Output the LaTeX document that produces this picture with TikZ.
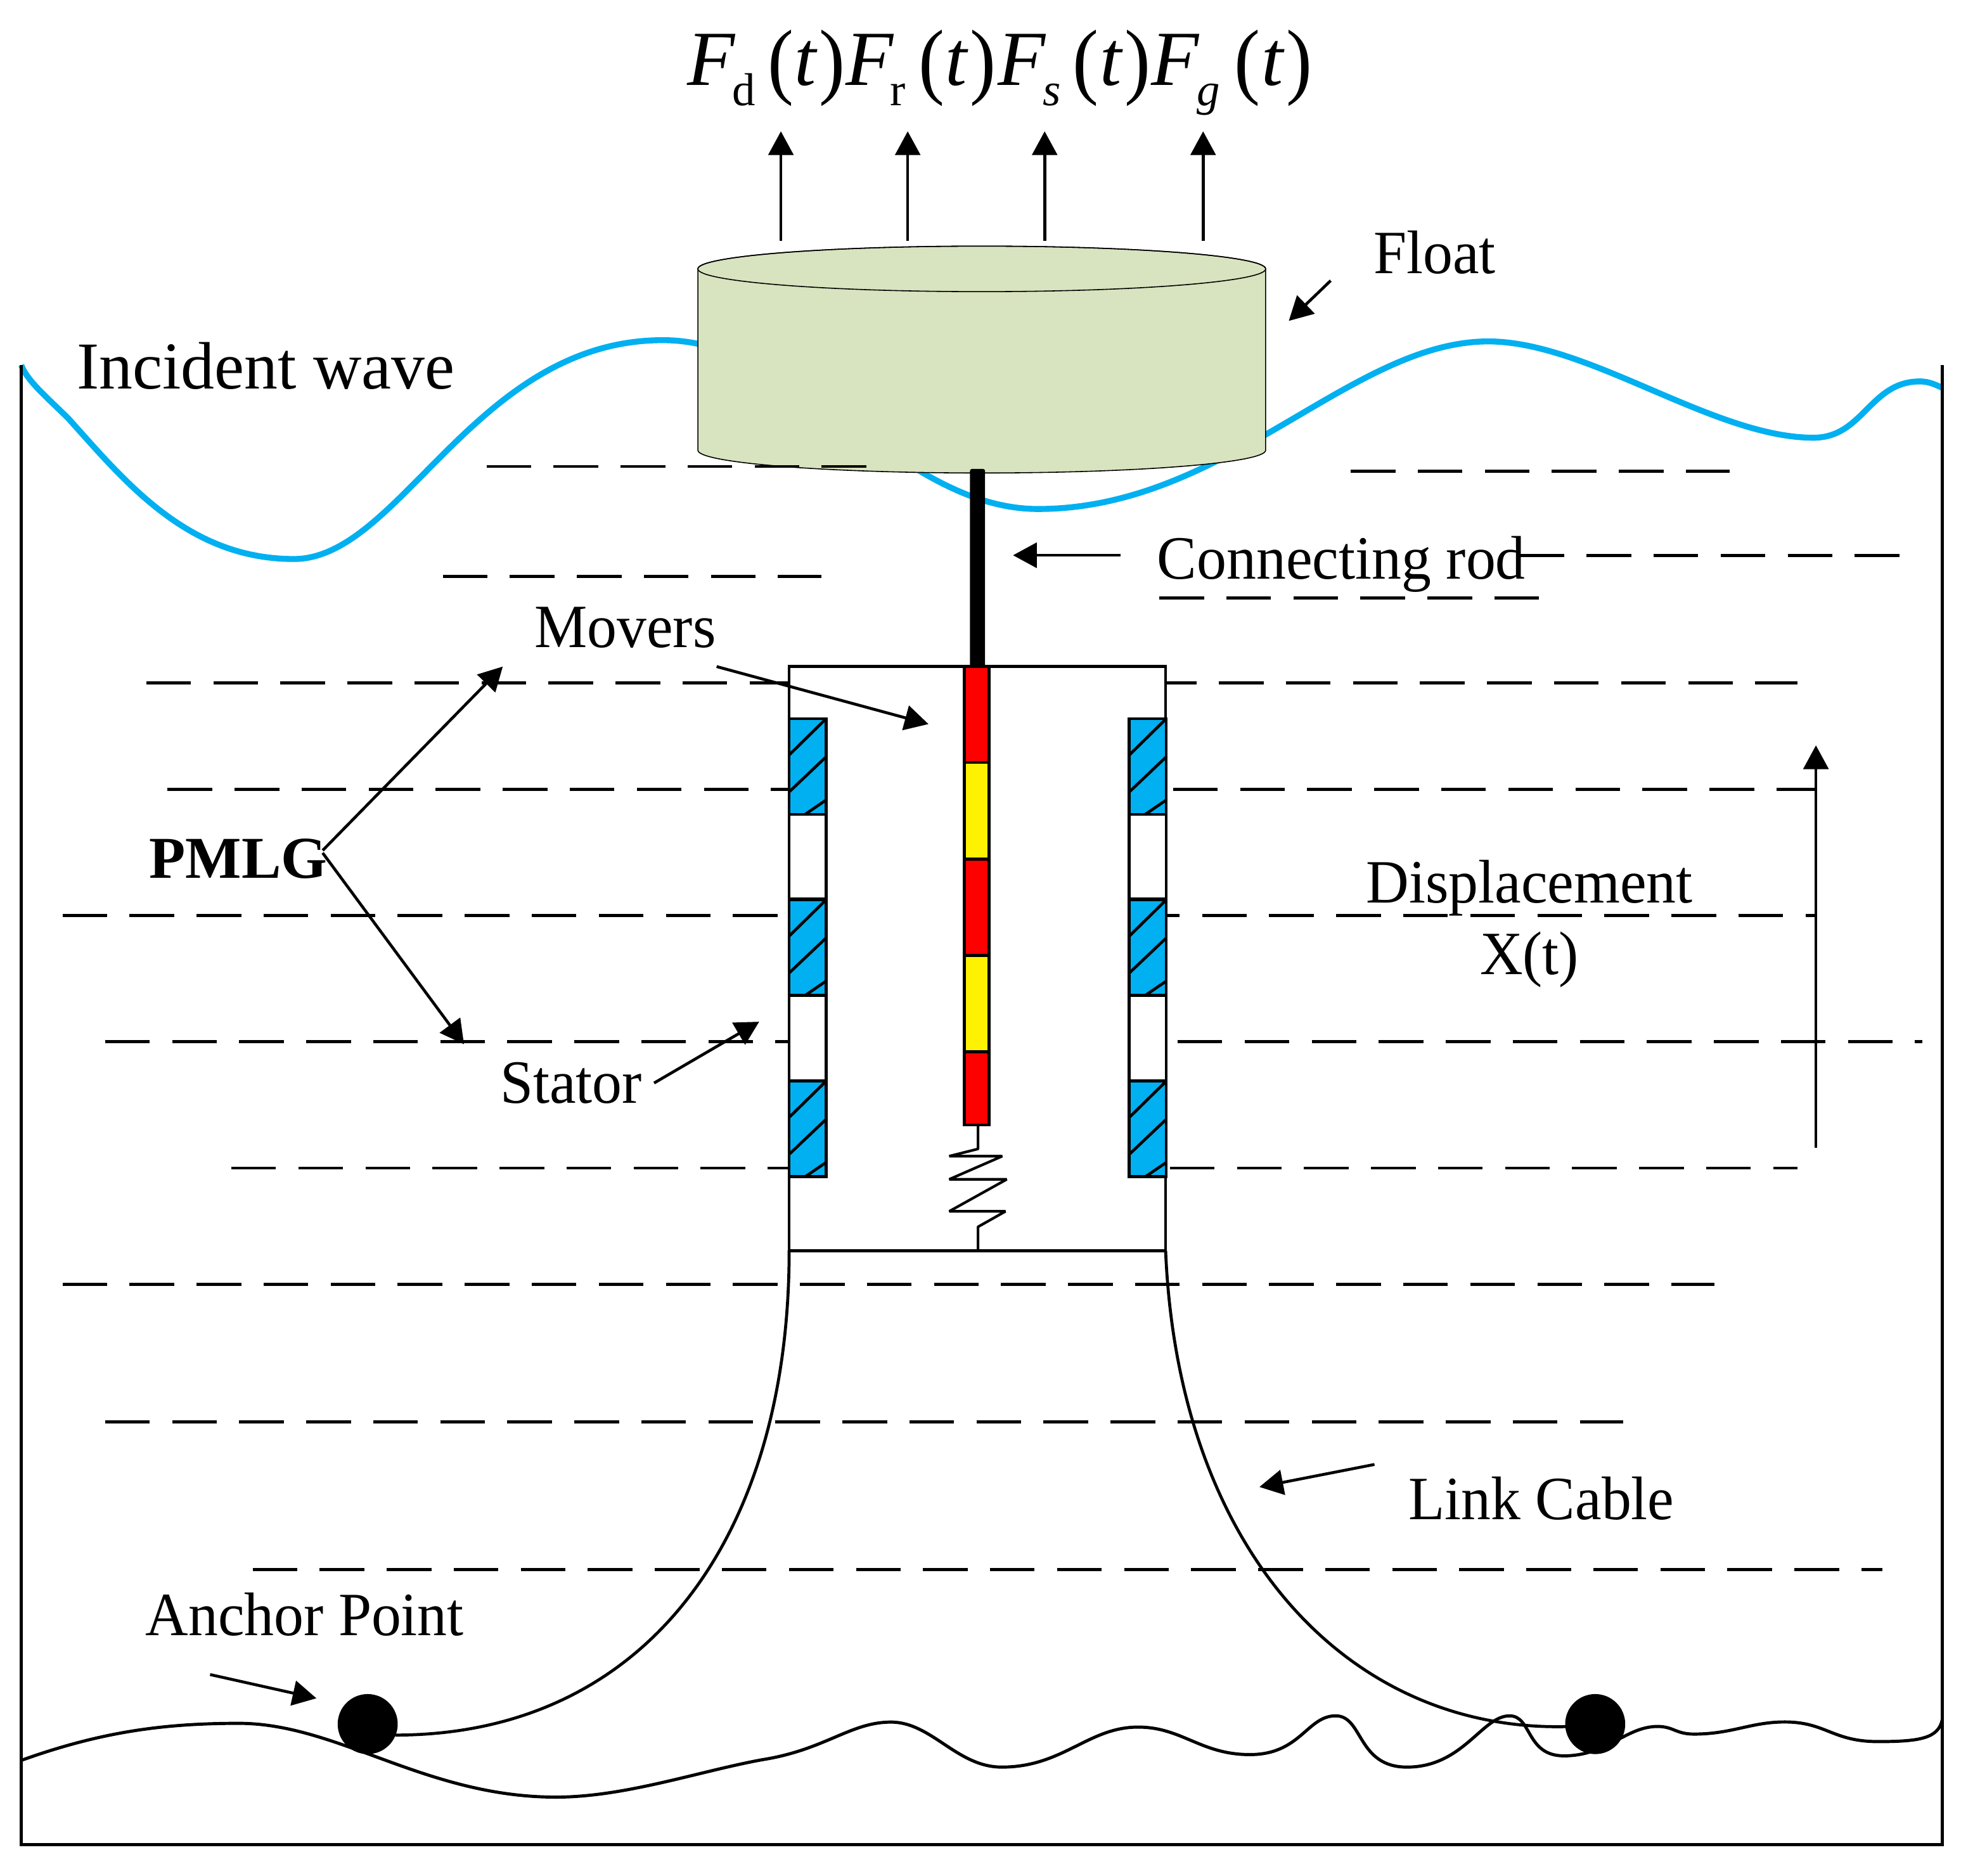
\documentclass[tikz,border=0pt]{standalone}
\usepackage{fontspec}
\usepackage{graphicx}
\setmainfont{Liberation Serif}
\usetikzlibrary{arrows.meta}
\definecolor{floatgreen}{HTML}{D8E3BF}
\definecolor{waveblue}{HTML}{00B0F0}
\newcommand{\Paren}[1]{\raisebox{-1.4pt}{\scalebox{1}[1.08]{#1}}}
\newcommand{\Fterm}[3][20.3pt]{\rlap{\itshape F}\kern#1\rlap{\raisebox{-9.2pt}{\fontsize{21}{22}\selectfont #2}}\kern-#1\kern#3\relax\rlap{\Paren{(}}\kern12.2pt\rlap{\itshape t}\kern11.4pt\rlap{\Paren{)}}}
\newcommand{\Lab}[1]{\scalebox{.965}[1]{#1}}
\tikzset{
  lbl/.style={anchor=base west,inner sep=0pt,font=\fontsize{28}{30}\selectfont},
  forceterm/.style={anchor=base west,inner sep=0pt,font=\fontsize{35.5}{38}\selectfont},
  waterline/.style={line width=.5mm,dash pattern=on 7.14mm off 3.58mm},
  boxline/.style={line width=.48mm},
  pointer/.style={line width=.46mm,-{Triangle[length=3.8mm,width=4mm]}},
  seabed/.style={line width=.5mm,line join=round},
  statorseg/.style={draw=black,fill=waveblue,line width=.48mm},
  statorgap/.style={draw=black,fill=white,line width=.48mm},
  hatchline/.style={line width=.46mm},
  anchorball/.style={circle,fill=black,inner sep=0pt,minimum size=9.6mm}
}
\begin{document}
\begin{tikzpicture}[x=.2mm,y=-.2mm]
\useasboundingbox (0,0) rectangle (1568,1499.7);
\fill[white] (0,0) rectangle (1568,1499.7);
% wave
\draw[waveblue,line width=.95mm]
  (17,292) .. controls (22,305) and (38,318) .. (55,335)
  .. controls (100,385) and (150,447) .. (235,447)
  .. controls (320,447) and (380,272) .. (530,272)
  .. controls (640,272) and (720,407) .. (830,407)
  .. controls (980,407) and (1080,273) .. (1190,273)
  .. controls (1270,273) and (1370,350) .. (1450,350)
  .. controls (1490,350) and (1495,305) .. (1535,305)
  .. controls (1543,305) and (1548,308) .. (1553,310);
% float
\path[fill=floatgreen,draw=black,line width=.16mm] (558,215) -- (558,360) arc[start angle=180,end angle=360,x radius=45.4mm,y radius=3.64mm] -- (1012,215) arc[start angle=0,end angle=180,x radius=45.4mm,y radius=3.64mm] -- cycle;
\draw[line width=.16mm] (785,215) ellipse[x radius=45.4mm,y radius=3.64mm];
% water lines
\foreach \ya/\xa/\xb in {373/389/693,377/1080/1383,444/1215/1520,461/354/657,478/927/1231,546/117/1437,631/134/1452,732/50/1452,833/84/1537,934/185/1437,1027/50/1371,1137/84/1298,1255/202/1505}
  \draw[waterline] (\xa,\ya) -- (\xb,\ya);
% generator case
\draw[boxline,fill=white] (631,533) rectangle (932,1000);
\coordinate (caseSW) at (631,1000);
\coordinate (caseSE) at (932,1000);
\foreach \sx in {631,903}{
  \draw[statorgap] (\sx,651) rectangle ++(29.5,68);
  \draw[statorgap] (\sx,796) rectangle ++(29.5,68);
  \foreach \sy in {574.7,719.5,864.5}{
    \draw[statorseg] (\sx,\sy) rectangle ++(29.5,76.5);
    \draw[hatchline] (\sx+29.5,\sy) -- (\sx,\sy+29);
    \draw[hatchline] (\sx+29.5,\sy+30.5) -- (\sx,\sy+58.5);
    \draw[hatchline] (\sx+29.5,\sy+65) -- (\sx+12.7,\sy+76.5);
  }
}
% movers
\foreach \ma/\mb/\mc in {533/609.7/red,609.7/686.8/yellow,686.8/763.8/red,763.8/841/yellow,841/899.6/red}
  \draw[boxline,fill=\mc] (771,\ma) rectangle (791,\mb);
\fill[rounded corners=.3mm] (775.6,375) rectangle (787.6,534);
% spring
\draw[line width=.42mm,line join=bevel] (782,900) -- (782,918.7) -- (759,924.5) -- (801.4,924.5) -- (759,943) -- (805,943) -- (759,968.6) -- (804,968.6) -- (782,981) -- (782,1000);
% cables
\coordinate (cableLend) at (316,1387.4);
\coordinate (cableRend) at (1253,1380.6);
\draw[line width=.48mm] (caseSW) .. controls (631,1230) and (516,1387.4) .. (cableLend);
\draw[line width=.48mm] (caseSE) .. controls (942,1240) and (1078,1385) .. (cableRend);
% seabed
\draw[seabed] (17,1407.6) .. controls (80,1385) and (130,1378) .. (191,1378)
  .. controls (270,1378) and (340,1437) .. (444.6,1437)
  .. controls (500,1437) and (560,1416) .. (610,1407)
  .. controls (660,1399) and (680,1377) .. (712.4,1377)
  .. controls (745,1377) and (765,1413) .. (801,1413)
  .. controls (850,1413) and (870,1381) .. (910,1381)
  .. controls (945,1381) and (960,1403) .. (999.4,1403)
  .. controls (1040,1403) and (1045,1372) .. (1068,1372)
  .. controls (1090,1372) and (1085,1413) .. (1125,1413)
  .. controls (1170,1413) and (1185,1372) .. (1207,1372)
  .. controls (1225,1372) and (1220,1404) .. (1250.5,1404)
  .. controls (1285,1404) and (1300,1380.5) .. (1325.4,1380.5)
  .. controls (1338,1380.5) and (1340,1386.6) .. (1354.4,1386.6)
  .. controls (1385,1386.6) and (1400,1376.9) .. (1427,1376.9)
  .. controls (1460,1376.9) and (1465,1392.6) .. (1501.7,1392.6)
  .. controls (1535,1392.6) and (1550,1390) .. (1553,1375);
\node[anchorball] (ancL) at (294,1378.6) {};
\node[anchorball] (ancR) at (1275.5,1378.6) {};
% tank
\draw[line width=.5mm,line join=miter] (17,292) -- (17,1475) -- (1553,1475) -- (1553,292);
% texts
\node[forceterm] (fd) at (549.4,68.4) {\Fterm{d}{36.4pt}};
\node[forceterm] (fr) at (676,68.4) {\Fterm{r}{33pt}};
\node[forceterm] (fs) at (797.8,68.4) {\Fterm{\itshape s}{34pt}};
\node[forceterm] (fg) at (920,68.4) {\Fterm[21pt]{\itshape g}{38pt}};
\node[lbl,font=\fontsize{30.5}{32}\selectfont] (incident) at (61,311) {Incident wave};
\node[lbl] (float) at (1098,218.5) {\Lab{Float}};
\node[lbl] (rod) at (925,463) {\scalebox{.966}[1]{Connecting rod}};
\node[lbl] (movers) at (427,517.5) {\Lab{Movers}};
\node[lbl,font=\fontsize{27}{30}\selectfont\bfseries] (pmlg) at (119,702) {PMLG};
\node[lbl] (disp) at (1092,722) {\Lab{Displacement}};
\node[lbl] (xt) at (1183,779) {\Lab{X(t)}};
\node[lbl] (stator) at (399.5,882) {\Lab{Stator}};
\node[lbl] (cable) at (1126,1215) {\Lab{Link Cable}};
\node[lbl] (anchor) at (116,1307.7) {\Lab{Anchor Point}};
% force arrows
\foreach \nm/\px in {a/624.4,b/725.8,c/835.3,d/962}{
  \coordinate (ft\nm) at (\px,192.6);
  \coordinate (fh\nm) at (\px,105);
  \draw[pointer] (ft\nm) -- (fh\nm);
}
% pointers
\coordinate (p1a) at (1064,224.4); \coordinate (p1b) at (1030.5,256.6);
\coordinate (p2a) at (896,444);    \coordinate (p2b) at (810,444);
\coordinate (p3a) at (573,533);    \coordinate (p3b) at (742.4,579);
\coordinate (p4a) at (258,680);    \coordinate (p4b) at (402,533);
\coordinate (p5a) at (258,682);    \coordinate (p5b) at (371,835);
\coordinate (p6a) at (523,866);    \coordinate (p6b) at (607,817);
\coordinate (p7a) at (1452,918);   \coordinate (p7b) at (1452,596);
\coordinate (p8a) at (1099,1171);  \coordinate (p8b) at (1007,1189);
\coordinate (p9a) at (168,1339);   \coordinate (p9b) at (253,1358);
\foreach \n in {1,...,9} \draw[pointer] (p\n a) -- (p\n b);
\end{tikzpicture}
\end{document}
